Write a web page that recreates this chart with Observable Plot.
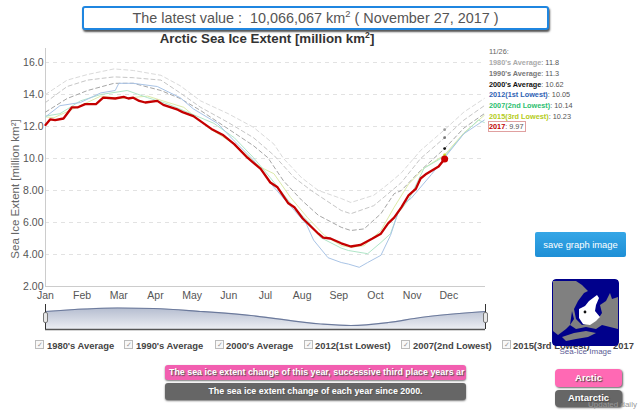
<!DOCTYPE html>
<html>
<head>
<meta charset="utf-8">
<script src="https://cdn.jsdelivr.net/npm/d3@7"></script>
<script src="https://cdn.jsdelivr.net/npm/@observablehq/plot@0.6"></script>
<style>
html,body{margin:0;padding:0;background:#fff;}
body{position:relative;width:640px;height:414px;overflow:hidden;font-family:"Liberation Sans",Arial,sans-serif;}
.abs{position:absolute;white-space:pre;}
svg{position:absolute;left:0;top:0;}
#banner{left:82px;top:6px;width:463px;height:20px;border:2px solid #1f86e0;border-radius:3px;box-shadow:1px 2px 2px #555;background:#fff;color:#555;font-size:14.4px;line-height:21px;text-align:center;}
#banner sup,#title sup{font-size:65%;line-height:0;}
#title{left:100px;width:334px;top:31px;text-align:center;font-weight:bold;font-size:13.3px;color:#333;}
#ylabel{left:15px;top:189px;transform:translate(-50%,-50%) rotate(-90deg);font-size:11.5px;color:#666;}
.leg{left:489px;font-size:7.3px;line-height:9px;color:#555;}
.chk{font-size:9.4px;font-weight:bold;color:#444;top:340px;}
.box{width:7px;height:7px;border:1px solid #bbb;top:340px;background:#f8f8f8;font-size:7px;line-height:7px;color:#999;text-align:center;}
.bar{left:165px;width:301px;color:#fff;font-weight:bold;font-size:8.9px;border-radius:3px;overflow:hidden;box-shadow:0 1px 2px #777;text-shadow:1px 1px 1px #555;}
.side{left:555px;width:67px;color:#fff;font-weight:bold;font-size:9.5px;text-align:center;border-radius:4px;box-shadow:1px 1px 2px #666;text-shadow:1px 1px 1px #444;}
.handle{width:3px;height:9px;top:312px;background:#e8e8e8;border:1px solid #777;border-radius:2px;}
</style>
</head>
<body>
<script>
const monthLabels = ["Jan","Feb","Mar","Apr","May","Jun","Jul","Aug","Sep","Oct","Nov","Dec"];
const monthTickDays = [1,31.5,62,92.5,123,153.5,184,214.5,245,275.5,306,336.5];
const yTicks = [2,4,6,8,10,12,14,16];
const yTickLabels = ["2.00","4.00","6.00","8.00","10.0","12.0","14.0","16.0"];

const avg1980Days = [1,19,36,58,74,97,113,130,153,174,191,199,214,228,247,255,274,286,297,313,333,349,366];
const avg1980Vals = [14.0,14.9,15.25,15.6,15.5,15.2,14.55,13.6,12.8,11.95,10.9,10.0,8.8,8.0,7.5,7.25,7.7,8.4,9.1,10.5,11.8,12.9,13.75];
const avg1990Days = [1,19,36,58,74,97,113,130,153,174,191,208,222,247,255,274,286,297,313,333,349,366];
const avg1990Vals = [13.5,14.5,14.9,15.1,15.05,14.9,14.1,13.2,12.25,11.3,10.2,8.8,8.0,6.75,6.55,7.05,7.8,8.5,10.0,11.3,12.4,13.3];
const avg2000Days = [1,19,36,58,74,97,113,130,153,174,186,199,214,228,247,255,266,280,291,297,313,333,349,366];
const avg2000Vals = [12.9,13.75,14.25,14.7,14.7,14.25,13.75,13.0,11.85,10.8,10.05,8.6,7.4,6.45,5.7,5.5,5.6,6.55,7.8,8.0,9.25,10.62,11.9,12.8];
const y2012Days = [1,13,30,47,59,62,74,94,113,124,144,158,174,191,208,218,224,236,247,253,262,269,280,288,294,299,305,322,333,349,366];
const y2012Vals = [12.6,13.3,13.5,14.1,14.25,14.7,14.7,14.5,13.8,13.1,12.2,11.1,9.9,8.2,6.75,5.9,4.9,3.8,3.5,3.4,3.2,3.5,3.95,5.2,6.55,7.2,7.5,9.0,10.05,11.55,12.4];
const y2007Days = [1,13,30,47,69,86,103,119,141,158,174,188,208,219,230,247,253,269,280,288,294,303,316,333,349,361,366];
const y2007Vals = [12.65,12.8,13.6,14.0,14.25,13.8,13.4,12.9,12.2,11.3,10.05,8.8,6.9,6.1,5.05,4.4,4.25,4.05,4.75,5.3,6.55,7.4,9.4,10.14,11.55,12.4,12.25];
const y2015Days = [1,8,30,47,64,86,103,116,136,158,180,191,205,219,233,247,255,266,280,291,303,316,333,349,366];
const y2015Vals = [12.6,12.55,13.3,13.9,13.75,13.9,13.5,13.2,11.95,10.9,9.45,9.05,7.55,6.3,5.2,4.55,4.45,4.55,5.5,6.95,8.4,9.4,10.23,11.6,12.7];
const y2017Days = [1,5,9,16,23,28,34,43,49,59,66,70,74,79,84,94,99,111,115,124,139,149,158,169,180,188,194,203,208,215,228,232,238,247,255,263,273,280,286,291,297,303,309,313,318,328,333];
const y2017Vals = [12.1,12.45,12.4,12.5,13.2,13.2,13.4,13.4,13.8,13.75,13.85,13.75,13.8,13.6,13.5,13.6,13.35,13.05,12.9,12.65,11.85,11.45,10.9,10.05,9.35,8.5,8.2,7.2,6.95,6.25,5.3,5.05,5.0,4.7,4.5,4.6,5.0,5.3,5.95,6.3,6.95,7.7,8.1,8.75,9.05,9.5,9.97];

const navDays = [1,61,91,130,172,230,255,286,313,367];
const navVals = [11.83,13.67,13.4,11.83,9.73,5.28,4.5,6.07,8.7,11.83];

const todayDay = 333;
const todayVals = [11.8,11.3,10.62,10.23];
const todayColors = ["#999","#777","#111","#c8d820"];
const latestVal = 9.97;

const zip = (d,v)=>d.map((x,i)=>({d:x,v:v[i]}));
const seriesOpts = [
  [avg1980Days,avg1980Vals,"#dadada",1,"4,3"],
  [avg1990Days,avg1990Vals,"#c6c6c6",1,"4,3"],
  [avg2000Days,avg2000Vals,"#a6a6a6",1,"4,3"],
  [y2015Days,y2015Vals,"#dcebaa",1,null],
  [y2007Days,y2007Vals,"#b0e6c8",1,null],
  [y2012Days,y2012Vals,"#a9c4e6",1,null],
  [y2017Days,y2017Vals,"#c40000",2.3,null]
];
const xDomain = [1,367];

const main = Plot.plot({
  width:640,height:414,
  marginLeft:45,marginRight:155,marginTop:48,marginBottom:128,
  x:{domain:xDomain},
  y:{domain:[2,16.875]},
  style:{fontFamily:"Liberation Sans, Arial, sans-serif",background:"transparent",color:"#555",overflow:"visible"},
  marks:[
    Plot.gridY(yTicks,{stroke:"#e2e2e2",strokeOpacity:1,strokeDasharray:"4,4"}),
    Plot.ruleX([1],{stroke:"#ccc"}),
    Plot.ruleY([2],{stroke:"#ccc",strokeWidth:1.2}),
    ...seriesOpts.map(([d,v,c,w,dash])=>Plot.line(zip(d,v),{x:"d",y:"v",stroke:c,strokeWidth:w,strokeDasharray:dash,curve:"linear"})),
    Plot.dot(todayVals,{x:()=>todayDay,y:d=>d,r:1.4,fill:(d,i)=>todayColors[i],stroke:"none"}),
    Plot.dot([latestVal],{x:()=>todayDay,y:d=>d,r:3.5,fill:"#cc0000",stroke:"none"}),
    Plot.axisX({ticks:monthTickDays,tickFormat:d=>monthLabels[monthTickDays.indexOf(d)],tickSize:0,tickPadding:5,fontSize:10.5,label:null,color:"#555"}),
    Plot.axisY({ticks:yTicks,tickFormat:d=>yTickLabels[yTicks.indexOf(d)],tickSize:0,tickPadding:2,fontSize:10.5,label:null,color:"#555"})
  ]
});
document.body.appendChild(main);

const nav = Plot.plot({
  width:640,height:414,
  marginLeft:45,marginRight:155,marginTop:304,marginBottom:85,
  x:{domain:xDomain,axis:null},
  y:{domain:[2.4,15.5],axis:null},
  style:{background:"transparent",overflow:"visible"},
  marks:[
    Plot.areaY(zip(navDays,navVals),{x:"d",y1:2.4,y2:"v",fill:"url(#navgrad)",curve:"monotone-x"}),
    Plot.line(zip(navDays,navVals),{x:"d",y:"v",stroke:"#6c7a9c",strokeWidth:1.2,curve:"monotone-x"}),
    Plot.ruleY([2.4],{stroke:"#555",strokeWidth:1.3}),
    Plot.ruleX([1,367],{stroke:"#333",strokeWidth:1})
  ]
});
nav.insertAdjacentHTML("afterbegin",'<defs><linearGradient id="navgrad" x1="0" y1="0" x2="0" y2="1"><stop offset="0" stop-color="#b4bccf"/><stop offset="1" stop-color="#eceef3"/></linearGradient></defs>');
document.body.appendChild(nav);

const add = (cls,style,html)=>{const e=document.createElement("div");e.className="abs "+cls;e.style.cssText=style;e.innerHTML=html;document.body.appendChild(e);return e;};

add("","","The latest value :  10,066,067 km<sup>2</sup> ( November 27, 2017 )").id="banner";
add("","","Arctic Sea Ice Extent [million km<sup>2</sup>]").id="title";
add("","","Sea Ice Extent [million km²]").id="ylabel";

const legendRows = [
  ["11/26:","","#666",false,47],
  ["1980's Average",": 11.8","#aaa",true,58],
  ["1990's Average",": 11.3","#777",true,69],
  ["2000's Average",": 10.62","#111",true,79.5],
  ["2012(1st Lowest)",": 10.05","#2f62b4",true,90],
  ["2007(2nd Lowest)",": 10.14","#2cc070",true,101],
  ["2015(3rd Lowest)",": 10.23","#b4cc20",true,111.5],
  ["2017",": 9.97","#c00000",true,122]
];
legendRows.forEach(([a,b,c,bold,top])=>add("leg",`top:${top}px`,`<span style="color:${c};font-weight:${bold?"bold":"normal"}">${a}</span>${b}`));
add("",`left:488px;top:121px;width:36px;height:9px;border:1px solid #e0a0a0;`,"");

const checks = [["1980's Average",47,35],["1990's Average",136,124],["2000's Average",226,215],["2012(1st Lowest)",315,304],["2007(2nd Lowest)",413,401],["2015(3rd Lowest)",513,502],["2017",613,0]];
checks.forEach(([t,x,b])=>{ if(b) add("box",`left:${b}px`,"✓"); add("chk",`left:${x}px`,t); });

add("bar","top:365px;height:15px;background:#f25fb0;line-height:14px;padding-left:4px;width:297px;","The sea ice extent change of this year, successive third place years ar");
add("bar","top:383px;height:17px;background:#666;line-height:16px;text-align:center;","The sea ice extent change of each year since 2000.");
add("side","top:369px;height:18px;background:#ff69b4;line-height:17px;","Arctic");
add("side","top:390px;height:17px;background:#666;line-height:16px;","Antarctic");
add("",`left:588px;top:400px;font-size:8px;color:#999;`,"Updated daily");
add("","left:535px;top:232px;width:91px;height:25px;border-radius:2px;background:linear-gradient(#35a6e6,#1e8fd6);color:#fff;font-size:9.4px;line-height:25px;text-align:center;","save graph image");
add("handle","left:43px","");add("handle","left:483px","");

// Decorative sea-ice thumbnail
add("","left:552px;top:279px;width:67px;height:67px;","<svg width='67' height='67' viewBox='0 0 67 67' style='position:static;border-radius:4px;display:block'><rect width='67' height='67' rx='4' fill='#00008b'/><path d='M1 6 L8 3 L12 8 L18 5 L22 10 L28 12 L30 18 L24 24 L20 32 L22 40 L18 46 L24 50 L34 48 L44 50 L50 46 L58 48 L66 50 L66 18 L60 20 L58 14 L54 22 L48 26 L50 34 L46 40 L38 44 L30 46 L24 40 L22 30 L26 22 L32 14 L36 12 L30 6 L24 2 L1 2Z M1 6 L1 52 L6 56 L14 50 L18 46 L20 32 L24 24 L30 18 L28 12 L22 10 L18 5 L12 8 L8 3Z M10 58 L22 54 L34 52 L44 54 L36 58 L24 60 L14 62Z' fill='#808080'/><path d='M27 30 L33 27 L37 22 L45 16 L47 19 L44 26 L43 32 L48 38 L44 42 L38 46 L31 45 L27 39Z' fill='#fff'/><circle cx='33' cy='33' r='1.4' fill='#111'/></svg>");
add("","left:552px;top:347px;width:67px;text-align:center;font-size:8px;color:#5c5c94;","Sea-Ice Image");
</script>
</body>
</html>
